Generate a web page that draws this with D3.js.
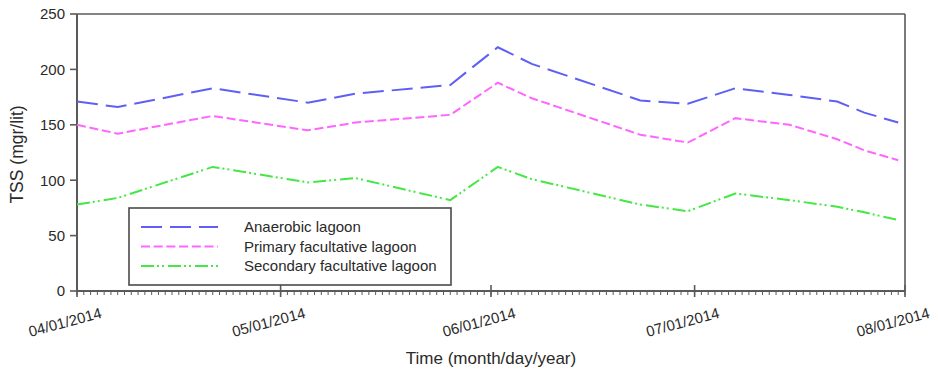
<!DOCTYPE html>
<html>
<head>
<meta charset="utf-8">
<script src="https://cdn.jsdelivr.net/npm/d3@7"></script>
<style>
  html, body { margin: 0; padding: 0; background: #fff; }
  svg { display: block; font-family: "Liberation Sans", Arial, sans-serif; }
</style>
</head>
<body>
<svg id="chart" width="938" height="372"></svg>
<script>
// Sampling dates (2014) and TSS readings for each lagoon
const sampleDates = [
  "2014-04-01", "2014-04-07", "2014-04-21", "2014-05-05", "2014-05-12",
  "2014-05-26", "2014-06-02", "2014-06-07", "2014-06-23", "2014-06-30",
  "2014-07-07", "2014-07-15", "2014-07-22", "2014-07-26", "2014-07-31"
];
const anaerobic = [171, 166, 183, 170, 178, 186, 220, 205, 172, 169, 183, 177, 171, 161, 152];
const primaryFacultative = [150, 142, 158, 145, 152, 159, 188, 174, 141, 134, 156, 150, 137, 127, 118];
const secondaryFacultative = [78, 84, 112, 98, 102, 82, 112, 101, 78, 72, 88, 82, 76, 71, 64];

const seriesNames = ["Anaerobic lagoon", "Primary facultative lagoon", "Secondary facultative lagoon"];
const yTicks = [0, 50, 100, 150, 200, 250];
const xTickDates = ["2014-04-01", "2014-05-01", "2014-06-01", "2014-07-01", "2014-08-01"];

const parse = d3.utcParse("%Y-%m-%d");
const fmt = d3.utcFormat("%m/%d/%Y");

const plot = { left: 77, right: 905, top: 14, bottom: 291 };
const svg = d3.select("#chart");

const x = d3.scaleUtc()
  .domain([parse("2014-04-01"), parse("2014-08-01")])
  .range([plot.left, plot.right]);
const y = d3.scaleLinear().domain([0, 250]).range([plot.bottom, plot.top]);

const axisColor = "#5a5a5a";
const textColor = "#2a2a2a";

// Frame: top and right edges
svg.append("line").attr("x1", plot.left).attr("x2", plot.right).attr("y1", plot.top).attr("y2", plot.top)
  .attr("stroke", axisColor).attr("stroke-width", 1.6);
svg.append("line").attr("x1", plot.right).attr("x2", plot.right).attr("y1", plot.top).attr("y2", plot.bottom)
  .attr("stroke", axisColor).attr("stroke-width", 1.6);

// Y axis
const yAxis = svg.append("g");
yAxis.append("line").attr("x1", plot.left).attr("x2", plot.left).attr("y1", plot.top).attr("y2", plot.bottom)
  .attr("stroke", axisColor).attr("stroke-width", 2);
yTicks.forEach(t => {
  yAxis.append("line").attr("x1", plot.left - 7).attr("x2", plot.left).attr("y1", y(t)).attr("y2", y(t))
    .attr("stroke", axisColor).attr("stroke-width", 1.6);
  yAxis.append("text").attr("x", plot.left - 12).attr("y", y(t)).attr("dy", "0.36em")
    .attr("text-anchor", "end").attr("font-size", 15).attr("fill", textColor).text(t);
});

// X axis with daily minor ticks and monthly major ticks
const xAxis = svg.append("g");
xAxis.append("line").attr("x1", plot.left).attr("x2", plot.right).attr("y1", plot.bottom).attr("y2", plot.bottom)
  .attr("stroke", axisColor).attr("stroke-width", 2);
d3.utcDay.range(parse("2014-04-01"), parse("2014-08-02")).forEach(d => {
  xAxis.append("line").attr("x1", x(d)).attr("x2", x(d)).attr("y1", plot.bottom).attr("y2", plot.bottom + 4)
    .attr("stroke", axisColor).attr("stroke-width", 1);
});
xTickDates.map(parse).forEach(d => {
  xAxis.append("line").attr("x1", x(d)).attr("x2", x(d)).attr("y1", plot.bottom - 6).attr("y2", plot.bottom + 6)
    .attr("stroke", axisColor).attr("stroke-width", 1.6);
  xAxis.append("text")
    .attr("transform", `translate(${x(d) - 12},${plot.bottom + 31}) rotate(-15)`)
    .attr("text-anchor", "middle").attr("dy", "0.36em")
    .attr("font-size", 15).attr("fill", textColor).text(fmt(d));
});

// Axis titles
svg.append("text").attr("x", 491).attr("y", 364)
  .attr("text-anchor", "middle").attr("font-size", 17).attr("fill", textColor)
  .text("Time (month/day/year)");
svg.append("text").attr("transform", `translate(23,${(plot.top + plot.bottom) / 2 + 2}) rotate(-90)`)
  .attr("text-anchor", "middle").attr("font-size", 17.5).attr("fill", textColor)
  .text("TSS (mgr/lit)");

// Series lines
const dates = sampleDates.map(parse);
const styles = [
  { color: "#5f5ff5", dash: "21,8" },
  { color: "#ff66ff", dash: "9,3.7" },
  { color: "#44e844", dash: "13,3,2,3,2,4" }
];
const values = [anaerobic, primaryFacultative, secondaryFacultative];
const line = d3.line().x(d => x(d[0])).y(d => y(d[1]));

values.forEach((vals, i) => {
  svg.append("path")
    .datum(dates.map((d, j) => [d, vals[j]]))
    .attr("fill", "none")
    .attr("stroke", styles[i].color)
    .attr("stroke-width", 2)
    .attr("stroke-dasharray", styles[i].dash)
    .attr("d", line);
});

// Legend
const legend = svg.append("g");
legend.append("rect").attr("x", 129).attr("y", 208).attr("width", 322).attr("height", 77)
  .attr("fill", "#fff").attr("stroke", "#4a4a4a").attr("stroke-width", 1.6);
seriesNames.forEach((name, i) => {
  const ly = 227 + i * 19.5;
  legend.append("line").attr("x1", 141).attr("x2", 218).attr("y1", ly).attr("y2", ly)
    .attr("stroke", styles[i].color).attr("stroke-width", 2)
    .attr("stroke-dasharray", styles[i].dash);
  legend.append("text").attr("x", 244).attr("y", ly).attr("dy", "0.36em")
    .attr("font-size", 15).attr("fill", textColor).text(name);
});
</script>
</body>
</html>
